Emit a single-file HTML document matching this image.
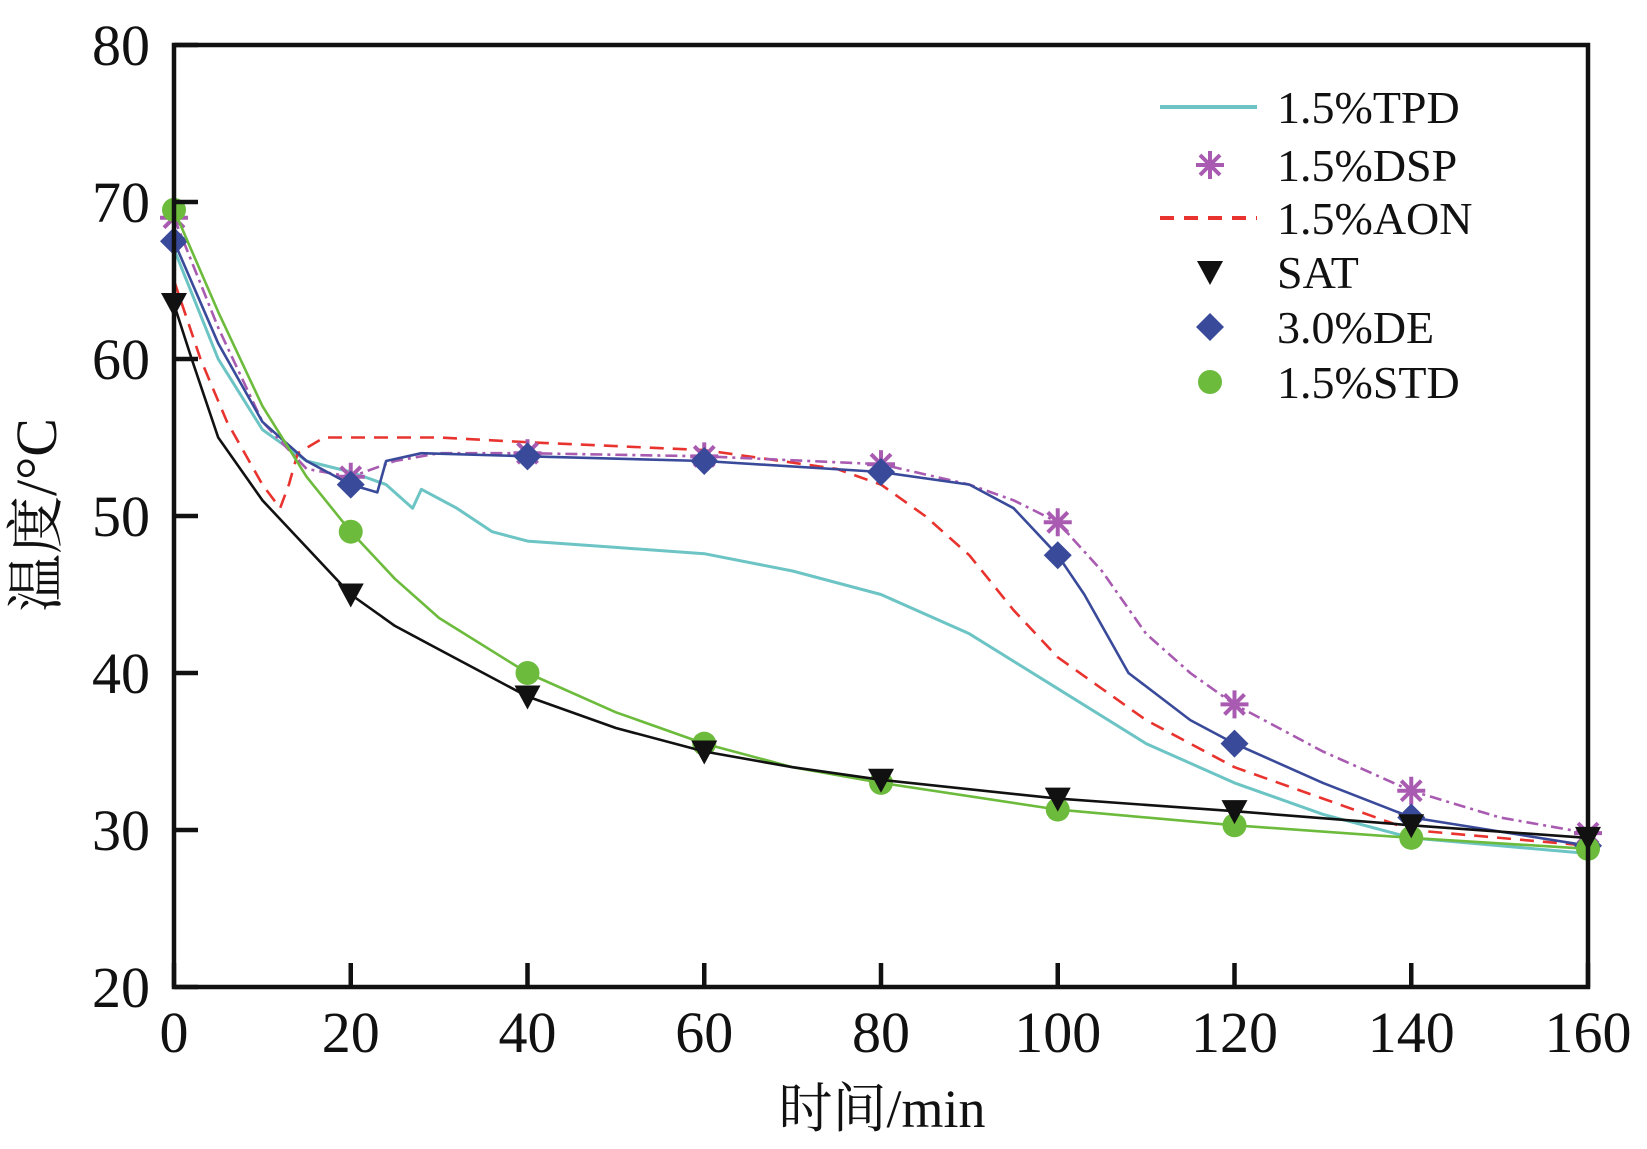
<!DOCTYPE html>
<html><head><meta charset="utf-8"><style>
body{margin:0;background:#fff;}
svg{display:block;font-family:"Liberation Serif","Noto Serif CJK SC",serif;}
</style></head><body>
<svg id="chart" width="1647" height="1149" viewBox="0 0 1647 1149" xmlns="http://www.w3.org/2000/svg">
<g id="series"></g>
<rect x="174" y="45" width="1414" height="942" fill="none" stroke="#111" stroke-width="4.5"/>
<g id="axes"></g>
<g id="legend"></g>
<text x="882" y="1127" font-size="54" text-anchor="middle" fill="#111">时间/min</text>
<text transform="translate(56,515) rotate(-90)" font-size="58" text-anchor="middle" fill="#111">温度/°C</text>
</svg>
<script>
const xTicks=[0,20,40,60,80,100,120,140,160];
const yTicks=[20,30,40,50,60,70,80];
const markerTimes=[0,20,40,60,80,100,120,140,160];
const tpdT=[0,5,10,15,20,24,27,28,32,36,40,50,60,70,80,90,100,110,120,130,140,160];
const tpdV=[67,60,55.5,53.5,52.8,52,50.5,51.7,50.5,49,48.4,48,47.6,46.5,45,42.5,39,35.5,33,31,29.5,28.5];
const dspT=[0,5,10,15,20,25,30,40,60,80,90,95,100,105,110,115,120,130,140,150,160];
const dspV=[69,62,56,53,52.5,53.5,54,54,53.8,53.3,52,51,49.6,46.5,42.5,40,38,35,32.5,30.8,29.8];
const aonT=[0,3,6,10,12,13,14,17,30,40,60,75,80,85,90,95,100,110,120,140,160];
const aonV=[65,60,56,52,50.5,52,54,55,55,54.7,54.2,53,52,50,47.5,44,41,37,34,30,29];
const satT=[0,2,5,10,15,20,25,30,40,50,60,70,80,100,120,140,160];
const satV=[63.5,60,55,51,48,45,43,41.5,38.5,36.5,35,34,33.2,32,31.2,30.3,29.5];
const deT=[0,5,10,15,20,23,24,28,40,60,80,90,95,100,103,108,115,120,130,140,160];
const deV=[67.5,61,56,53.5,52,51.5,53.5,54,53.8,53.5,52.8,52,50.5,47.5,45,40,37,35.5,33,30.8,29];
const stdT=[0,5,10,15,20,25,30,40,50,60,70,80,100,120,140,160];
const stdV=[69.5,63,57,52.5,49,46,43.5,40,37.5,35.5,34,33,31.3,30.3,29.5,28.8];
const legendLabels=["1.5%TPD","1.5%DSP","1.5%AON","SAT","3.0%DE","1.5%STD"];

const NS="http://www.w3.org/2000/svg";
const X0=174,X1=1588,Y0=987,Y1=45;
function sx(t){return X0+(t-0)/(160-0)*(X1-X0);}
function sy(v){return Y0-(v-20)/(80-20)*(Y0-Y1);}
function mk(tag,attrs,parent){const e=document.createElementNS(NS,tag);for(const k in attrs)e.setAttribute(k,attrs[k]);parent.appendChild(e);return e;}
function interp(T,V,t){for(let i=0;i<T.length-1;i++){if(t>=T[i]&&t<=T[i+1]){return V[i]+(V[i+1]-V[i])*(t-T[i])/(T[i+1]-T[i]);}}return V[V.length-1];}

const axes=document.getElementById('axes');
xTicks.forEach(t=>{
  const l=mk('line',{x1:sx(t),x2:sx(t),y1:Y0,y2:Y0-24,stroke:'#111','stroke-width':4.5},axes);
  
  
  const tx=mk('text',{x:sx(t),y:1052,'font-size':58,'text-anchor':'middle',fill:'#111'},axes);
  tx.textContent=t;
  
  
});
yTicks.forEach(v=>{
  const l=mk('line',{x1:X0,x2:X0+24,y1:sy(v),y2:sy(v),stroke:'#111','stroke-width':4.5},axes);
  
  
  const tx=mk('text',{x:150,y:sy(v)+20,'font-size':58,'text-anchor':'end',fill:'#111'},axes);
  tx.textContent=v;
  
  
});

const g=document.getElementById('series');
const series=[
 {n:'tpd',T:tpdT,V:tpdV,c:'#6cc4c4',d:'',m:null},
 {n:'aon',T:aonT,V:aonV,c:'#e8332e',d:'14 9',m:null},
 {n:'dsp',T:dspT,V:dspV,c:'#a85bb0',d:'12 5 3 5',m:'star'},
 {n:'de',T:deT,V:deV,c:'#3a4a9a',d:'',m:'diamond'},
 {n:'std',T:stdT,V:stdV,c:'#6cbb3c',d:'',m:'circle'},
 {n:'sat',T:satT,V:satV,c:'#111',d:'',m:'tri'}
];
function marker(type,x,y,c,parent){
  let e;
  if(type==='star'){e=mk('g',{stroke:c,'stroke-width':4},parent);
    [[-14,0,14,0],[0,-14,0,14],[-10,-10,10,10],[-10,10,10,-10]].forEach(a=>mk('line',{x1:x+a[0],y1:y+a[1],x2:x+a[2],y2:y+a[3]},e));}
  else if(type==='diamond'){e=mk('polygon',{points:`${x},${y-14} ${x+14},${y} ${x},${y+14} ${x-14},${y}`,fill:c},parent);}
  else if(type==='circle'){e=mk('circle',{cx:x,cy:y,r:12,fill:c},parent);}
  else {e=mk('polygon',{points:`${x-13},${y-11} ${x+13},${y-11} ${x},${y+13}`,fill:c},parent);}
  return e;
}
series.forEach(s=>{
  const pts=s.T.map((t,i)=>sx(t).toFixed(1)+','+sy(s.V[i]).toFixed(1)).join(' ');
  const p=mk('polyline',{points:pts,fill:'none',stroke:s.c,'stroke-width':s.n==='tpd'?3:2.6,'stroke-dasharray':s.d,'stroke-linejoin':'round'},g);
  
  
  if(s.m){markerTimes.forEach(t=>{
    const e=marker(s.m,sx(t),sy(interp(s.T,s.V,t)),s.c,g);
    
    
  });}
});

const lg=document.getElementById('legend');
const rowsY=[107,165,218,272,327,382];
const lstyle=[{c:'#6cc4c4',line:'',m:null},{c:'#a85bb0',line:null,m:'star'},{c:'#e8332e',line:'14 10',m:null},{c:'#111',line:null,m:'tri'},{c:'#3a4a9a',line:null,m:'diamond'},{c:'#6cbb3c',line:null,m:'circle'}];
legendLabels.forEach((lab,i)=>{
  const y=rowsY[i],st=lstyle[i];
  const grp=mk('g',{},lg);
  
  
  if(st.line!==null){mk('line',{x1:1160,x2:1257,y1:y,y2:y,stroke:st.c,'stroke-width':4,'stroke-dasharray':st.line},grp);}
  if(st.m){marker(st.m,1210,y,st.c,grp);}
  const tx=mk('text',{x:1277,y:y+16,'font-size':46,fill:'#111'},grp);
  tx.textContent=lab;
});
</script>
</body></html>
